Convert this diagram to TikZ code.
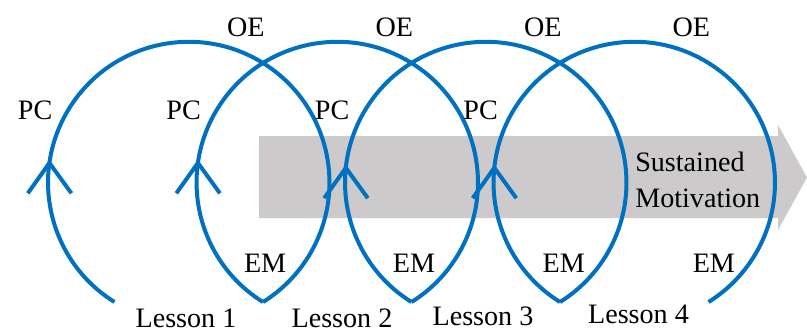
\documentclass[tikz,border=0pt]{standalone}
\usepackage{fontspec}
\setmainfont{Liberation Serif}
\definecolor{loopblue}{RGB}{0,112,192}
\definecolor{trendgray}{RGB}{204,202,203}
\tikzset{
  loopline/.style={draw=loopblue, line width=2.85pt},
  lbl/.style={inner sep=0pt, anchor=base, font=\fontsize{20}{25}\selectfont},
}
\begin{document}
\begin{tikzpicture}

  \useasboundingbox (0,0) rectangle (20.175,-8.275);
  % Trend arrow
  \fill[trendgray] (6.475,-3.4) -- (19.45,-3.4) -- (19.45,-3.125) -- (20.175,-4.4375)
    -- (19.45,-5.75) -- (19.45,-5.45) -- (6.475,-5.45) -- cycle;
  \node[lbl, anchor=base west, align=left] (motiv) at (15.875,-5.175) {Sustained\\Motivation};
  % Loops, one per lesson
  \foreach \i/\a/\e in {1/172/1.91, 2/172/1.92, 3/174/1.95, 4/174/1.99} {
    \coordinate (c\i) at ({4.71875+3.7125*(\i-1)},-4.5625);
    \draw[loopline] (c\i) ++(238.15:3.5175) arc[start angle=238.15, end angle=-58.15, radius=3.5175];
    % chevron
    \draw[loopline] (c\i) ++(\a:3.5175) ++(-0.54,-0.76) -- ++(0.54,0.76) -- ++(0.55,-0.76);
    \node[lbl] (oe\i) at ([shift={(1.425,3.6625)}]c\i) {OE};
    \node[lbl] (pc\i) at ([shift={(-3.84,1.5875)}]c\i) {PC};
    \node[lbl] (em\i) at ([shift={(\e,-2.2375)}]c\i) {EM};
  }
  % Lesson names
  \node[lbl] (lesson1) at (4.65,-8.175) {Lesson 1};
  \node[lbl] (lesson2) at (8.55,-8.175) {Lesson 2};
  \node[lbl] (lesson3) at (12.075,-8.125) {Lesson 3};
  \node[lbl] (lesson4) at (15.9625,-8.0875) {Lesson 4};

\end{tikzpicture}
\end{document}
